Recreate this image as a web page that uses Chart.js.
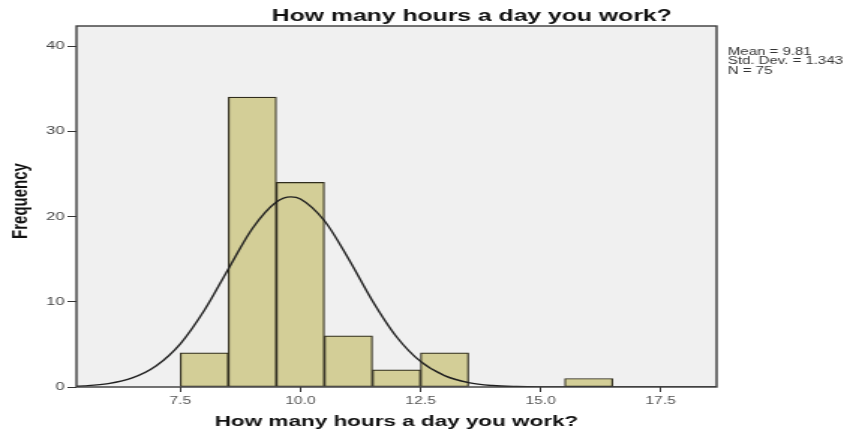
<!DOCTYPE html>
<html lang="en">
<head>
<meta charset="UTF-8">
<title>How many hours a day you work?</title>
<style>
  body { margin: 0; background: #fff; }
</style>
</head>
<body>
<!-- the reference is a horizontally stretched SPSS plot, so the canvas is drawn narrow and stretched by CSS -->
<canvas id="histo" width="573" height="433" style="display:block;width:859px;height:433px"></canvas>
<script src="https://cdn.jsdelivr.net/npm/chart.js@4.4.1/dist/chart.umd.min.js"></script>
<script>
const chartTitle = 'How many hours a day you work?';
const xAxisTitle = 'How many hours a day you work?';
const yAxisTitle = 'Frequency';
const statsLines = ['Mean = 9.81', 'Std. Dev. = 1.343', 'N = 75'];

// histogram bins (centre of each 1-hour bin) and counts
const binCentres = [8, 9, 10, 11, 12, 13, 16];
const binCounts = [4, 34, 24, 6, 2, 4, 1];

// normal curve
const curveX = [5.34, 5.5, 6, 6.5, 7, 7.5, 8, 8.5, 9, 9.5, 9.8, 10, 10.5, 11, 11.5, 12, 12.5, 13, 13.5, 14, 14.5, 15, 16, 17, 18.66];
const curveY = [0.09, 0.13, 0.4, 1.07, 2.5, 5.07, 9.0, 13.85, 18.6, 21.7, 22.3, 22.06, 19.5, 15.05, 10.1, 5.9, 3.0, 1.33, 0.51, 0.17, 0.05, 0.01, 0, 0, 0];

const xTicks = [7.5, 10, 12.5, 15, 17.5];
const yTicks = [0, 10, 20, 30, 40];

const FONT = "'Liberation Sans', Arial, sans-serif";
Chart.defaults.font.family = FONT;

const plotFrame = {
    id: 'plotFrame',
    beforeDraw(chart) {
        const {ctx, chartArea: a} = chart;
        ctx.save();
        ctx.fillStyle = '#f0f0f0';
        ctx.fillRect(a.left, a.top, a.right - a.left, a.bottom - a.top);
        ctx.restore();
    },
    afterDatasetsDraw(chart) {
        const {ctx, chartArea: a} = chart;
        ctx.save();
        ctx.strokeStyle = '#3a3a3a';
        ctx.lineWidth = 1.4;
        ctx.strokeRect(a.left, a.top, a.right - a.left, a.bottom - a.top);
        ctx.restore();
    },
    afterDraw(chart) {
        const {ctx, chartArea: a} = chart;
        ctx.save();
        ctx.fillStyle = '#111';
        ctx.font = "bold 16.5px " + FONT;
        ctx.textAlign = 'center';
        ctx.textBaseline = 'alphabetic';
        ctx.fillText(chartTitle, 314.7, 21);

        // y axis title, turned
        ctx.save();
        ctx.translate(14, 201);
        ctx.rotate(-Math.PI / 2);
        ctx.font = "bold 15px " + FONT;
        ctx.textBaseline = 'middle';
        ctx.fillText(yAxisTitle, 0, 0);
        ctx.restore();

        ctx.fillStyle = '#333';
        ctx.font = "10px " + FONT;
        ctx.textAlign = 'left';
        ctx.textBaseline = 'middle';
        statsLines.forEach((s, i) => ctx.fillText(s, a.right + 7.5, 52 + i * 9.5));
        ctx.restore();
    }
};

new Chart(document.getElementById('histo'), {
    type: 'bar',
    data: {
        datasets: [
            {
                type: 'line',
                data: curveX.map((x, i) => ({x: x, y: curveY[i]})),
                borderColor: '#1f1f1f',
                borderWidth: 1.4,
                pointRadius: 0,
                cubicInterpolationMode: 'monotone',
                fill: false,
                order: 0
            },
            {
                type: 'bar',
                data: binCentres.map((x, i) => ({x: x, y: binCounts[i]})),
                backgroundColor: '#d3ce97',
                borderColor: '#2f2c1c',
                borderWidth: 1.2,
                borderSkipped: false,
                barPercentage: 1,
                categoryPercentage: 1,
                order: 1
            }
        ]
    },
    options: {
        responsive: false,
        animation: false,
        devicePixelRatio: 1,
        layout: { padding: { top: 26, right: 95, left: 0, bottom: 0 } },
        plugins: {
            legend: { display: false },
            tooltip: { enabled: false }
        },
        scales: {
            x: {
                type: 'linear',
                min: 5.338,
                max: 18.663,
                offset: false,
                afterFit: (s) => { s.height = 46; },
                afterBuildTicks: (s) => { s.ticks = xTicks.map(v => ({value: v})); },
                grid: { display: true, offset: false, drawOnChartArea: false, drawTicks: true, tickLength: 5, tickColor: '#333' },
                border: { display: false },
                ticks: {
                    color: '#555',
                    font: { size: 10.5 },
                    padding: 3,
                    maxRotation: 0,
                    callback: (v) => Number(v).toFixed(1)
                },
                title: {
                    display: true,
                    text: xAxisTitle,
                    color: '#111',
                    font: { size: 15, weight: 'bold' },
                    padding: { top: 0, bottom: 2 }
                }
            },
            y: {
                min: 0,
                max: 42.35,
                afterFit: (s) => { s.width = 51; },
                afterBuildTicks: (s) => { s.ticks = yTicks.map(v => ({value: v})); },
                grid: { display: true, drawOnChartArea: false, drawTicks: true, tickLength: 6, tickColor: '#333' },
                border: { display: false },
                ticks: {
                    color: '#444',
                    font: { size: 11 },
                    padding: 2
                }
            }
        }
    },
    plugins: [plotFrame]
});
</script>
</body>
</html>
